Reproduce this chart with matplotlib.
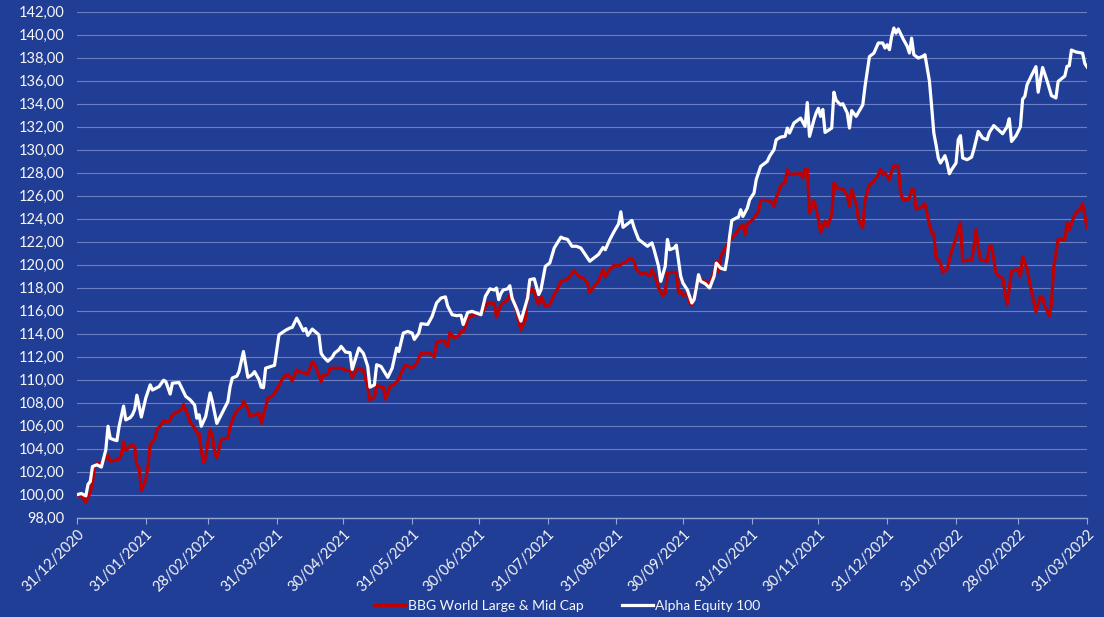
import matplotlib
matplotlib.use("Agg")
import matplotlib.pyplot as plt
from matplotlib.ticker import FuncFormatter, MultipleLocator
import pandas as pd

# days counted from 31/12/2020
bbg_days = [0, 2, 4, 6, 7, 8, 9, 11, 13, 14, 15, 17, 19, 20, 21, 22, 24, 25, 26, 27, 28, 29, 31, 32, 33, 35, 36, 38, 39, 41,
            42, 43, 45, 47, 48, 50, 51, 53, 54, 55, 56, 57, 58, 59, 60, 61, 62, 63, 65, 66, 68, 69, 71, 72, 74, 75, 77, 78, 80, 82,
            83, 84, 86, 88, 89, 90, 92, 93, 95, 97, 99, 101, 104, 105, 106, 107, 108, 110, 111, 113, 114, 117, 119, 121, 123, 124, 126, 127, 129, 130,
            131, 132, 134, 135, 137, 138, 139, 141, 143, 145, 146, 148, 149, 151, 153, 154, 155, 159, 161, 162, 165, 167, 168, 170, 172, 173, 174, 175, 176, 179,
            181, 183, 185, 186, 188, 189, 191, 194, 195, 197, 198, 200, 202, 203, 205, 206, 208, 209, 211, 213, 215, 216, 218, 221, 222, 224, 226, 228, 230, 231,
            233, 235, 237, 238, 240, 242, 244, 246, 247, 249, 251, 252, 254, 256, 257, 258, 259, 261, 262, 264, 265, 266, 268, 270, 271, 272, 273, 275, 276, 277,
            278, 280, 281, 283, 285, 287, 288, 289, 290, 293, 295, 297, 299, 300, 301, 302, 304, 305, 307, 308, 311, 313, 314, 315, 317, 319, 320, 321, 323, 325,
            326, 327, 328, 329, 330, 332, 334, 335, 337, 338, 340, 341, 343, 345, 347, 348, 349, 351, 352, 354, 355, 357, 359, 361, 362, 363, 364, 366, 367, 368,
            370, 371, 372, 374, 375, 376, 377, 378, 380, 382, 384, 385, 386, 387, 389, 390, 392, 394, 396, 398, 399, 401, 403, 404, 405, 406, 407, 410, 411, 412,
            414, 415, 417, 419, 421, 423, 424, 425, 426, 428, 430, 432, 434, 435, 436, 437, 438, 439, 440, 442, 445, 446, 447, 449, 450, 452, 453, 454, 455]
bbg_vals = [100.0, 99.85, 99.35, 100.2, 101.0, 102.6, 102.7, 102.75, 103.2, 103.4, 102.9, 103.0, 103.1, 103.5, 104.6, 103.86, 104.2, 104.35, 104.2, 102.46, 102.4, 100.38, 101.3, 102.46, 104.35, 104.78, 105.65, 106.1, 106.43, 106.3,
            106.5, 106.95, 107.16, 107.4, 107.83, 106.9, 106.3, 105.8, 105.36, 105.36, 103.9, 102.8, 103.2, 104.64, 105.65, 105.07, 103.77, 103.2, 104.78, 104.84, 104.93, 105.94, 106.95, 107.3, 107.62, 108.1, 107.5, 106.8, 106.96, 107.1,
            106.23, 106.9, 108.4, 108.6, 108.84, 109.13, 109.86, 110.2, 110.5, 109.9, 110.85, 110.65, 110.5, 111.0, 111.56, 111.35, 110.9, 109.85, 110.4, 110.45, 111.0, 111.0, 111.0, 110.82, 110.8, 110.2, 110.9, 111.0, 110.8, 110.1,
            109.3, 108.2, 108.5, 109.5, 109.36, 109.36, 108.3, 109.4, 109.6, 110.05, 110.58, 111.25, 111.2, 111.0, 111.4, 111.88, 112.3, 112.32, 111.97, 113.25, 113.42, 112.9, 114.12, 113.62, 113.83, 114.2, 114.2, 114.58, 115.36, 115.65,
            115.65, 115.94, 116.67, 116.67, 116.6, 115.45, 116.52, 116.96, 117.39, 116.81, 115.94, 114.35, 115.22, 117.39, 117.97, 117.54, 116.52, 117.25, 116.38, 116.52, 117.39, 117.68, 118.55, 118.75, 118.99, 119.5, 118.99, 118.84, 118.41, 117.59,
            118.12, 118.6, 119.57, 118.95, 119.6, 119.95, 119.9, 120.14, 120.2, 120.58, 120.29, 119.57, 119.22, 119.3, 119.13, 118.99, 119.57, 118.7, 117.97, 117.3, 117.54, 119.28, 119.33, 119.33, 117.54, 117.68, 117.3, 117.54, 116.72, 116.49,
            117.1, 118.99, 118.7, 118.55, 118.26, 119.42, 120.29, 119.33, 120.72, 121.74, 122.32, 122.75, 123.33, 123.48, 122.61, 123.57, 123.86, 124.06, 124.64, 125.59, 125.59, 125.42, 125.07, 125.8, 126.87, 127.16, 128.26, 127.83, 127.88, 127.91,
            127.97, 127.54, 128.32, 128.32, 124.49, 125.59, 124.0, 122.8, 123.8, 123.33, 124.35, 127.1, 126.6, 126.6, 126.0, 125.1, 126.52, 125.3, 124.0, 123.19, 125.65, 126.96, 127.25, 127.83, 128.32, 127.83, 127.97, 127.39, 128.12, 128.61,
            128.55, 126.3, 125.65, 125.65, 125.8, 126.52, 126.52, 124.84, 124.95, 125.3, 123.5, 122.8, 122.7, 120.58, 120.2, 119.3, 119.6, 121.2, 122.3, 123.68, 120.3, 120.4, 120.4, 121.5, 123.05, 121.6, 120.43, 120.29, 121.6, 121.62,
            119.3, 119.04, 118.84, 116.52, 119.42, 119.57, 119.57, 118.95, 120.72, 119.64, 117.68, 115.9, 117.25, 117.1, 116.4, 116.0, 115.51, 116.6, 119.8, 122.23, 122.17, 123.65, 123.04, 124.1, 124.5, 124.85, 125.3, 124.3, 123.19]

alpha_days = [0, 2, 4, 5, 6, 7, 9, 11, 13, 14, 15, 17, 18, 19, 21, 22, 24, 25, 26, 27, 29, 31, 33, 34, 37, 39, 40, 42, 43, 46,
              49, 51, 53, 54, 55, 56, 58, 60, 61, 63, 65, 68, 69, 70, 72, 73, 75, 77, 79, 80, 82, 83, 84, 85, 89, 91, 94, 96, 97, 99,
              100, 102, 103, 104, 106, 109, 110, 111, 113, 115, 116, 118, 119, 121, 123, 124, 127, 129, 130, 131, 132, 134, 135, 137, 140, 142, 144, 145, 147, 149,
              151, 152, 154, 155, 158, 160, 162, 164, 166, 167, 169, 171, 173, 174, 176, 178, 180, 182, 184, 186, 188, 189, 190, 191, 192, 194, 195, 196, 198, 200,
              203, 204, 206, 208, 209, 211, 213, 215, 218, 219, 221, 223, 225, 227, 230, 231, 233, 235, 237, 238, 240, 242, 244, 245, 246, 248, 250, 251, 253, 255,
              257, 259, 260, 262, 263, 265, 266, 267, 269, 270, 272, 273, 275, 277, 278, 279, 280, 281, 283, 285, 287, 288, 290, 292, 293, 294, 295, 297, 298, 299,
              300, 302, 303, 305, 306, 308, 309, 311, 312, 314, 315, 317, 319, 320, 321, 323, 325, 326, 328, 329, 330, 332, 333, 334, 335, 336, 337, 340, 341, 342,
              344, 345, 347, 348, 349, 351, 354, 355, 357, 359, 361, 363, 364, 365, 366, 367, 368, 369, 370, 372, 374, 375, 376, 377, 379, 381, 382, 384, 385, 386,
              387, 388, 389, 391, 392, 393, 394, 396, 397, 398, 399, 401, 403, 404, 406, 408, 410, 411, 413, 415, 417, 419, 420, 421, 423, 425, 426, 427, 428, 430,
              432, 433, 435, 437, 439, 441, 442, 445, 446, 447, 448, 450, 453, 454, 455]
alpha_vals = [100.0, 100.1, 99.9, 100.9, 101.15, 102.45, 102.6, 102.4, 103.9, 105.95, 104.9, 104.75, 104.7, 105.95, 107.7, 106.5, 106.7, 106.95, 107.4, 108.65, 106.75, 108.4, 109.55, 109.1, 109.4, 109.95, 109.85, 108.75, 109.7, 109.75,
              108.55, 108.25, 107.8, 106.65, 106.95, 105.95, 106.8, 108.85, 108.1, 106.2, 106.95, 108.1, 109.4, 110.15, 110.3, 110.7, 112.45, 110.2, 110.45, 110.7, 110.0, 109.35, 109.3, 111.0, 111.25, 113.9, 114.3, 114.5, 114.55, 115.35,
              115.0, 114.25, 114.45, 113.85, 114.4, 113.9, 112.3, 112.0, 111.6, 111.95, 112.3, 112.6, 112.9, 112.4, 112.35, 110.9, 112.75, 112.3, 111.75, 111.15, 109.35, 109.55, 111.3, 111.15, 110.2, 111.0, 112.75, 112.45, 114.05, 114.2,
              114.05, 113.5, 114.05, 114.87, 114.8, 115.5, 116.67, 117.1, 117.2, 116.4, 115.65, 115.57, 115.6, 114.8, 115.85, 115.94, 115.8, 115.65, 117.25, 117.9, 117.8, 117.97, 116.96, 117.5, 117.8, 117.9, 118.17, 117.1, 116.2, 115.1,
              117.1, 118.7, 118.78, 117.4, 117.8, 119.86, 120.15, 121.45, 122.4, 122.3, 122.2, 121.6, 121.6, 121.45, 120.6, 120.3, 120.6, 120.9, 121.5, 121.3, 122.17, 122.9, 123.55, 124.6, 123.25, 123.55, 123.85, 123.2, 122.2, 121.9,
              121.6, 121.9, 121.3, 119.86, 118.55, 119.86, 122.2, 121.3, 121.45, 121.7, 118.98, 118.4, 117.8, 116.67, 116.96, 117.97, 119.13, 118.55, 118.35, 117.97, 118.98, 120.14, 119.7, 119.57, 120.72, 122.46, 123.85, 124.06, 124.14, 124.78,
              124.2, 124.93, 125.65, 126.23, 127.4, 128.55, 128.7, 128.99, 129.42, 130.0, 130.87, 131.1, 131.16, 131.88, 131.45, 132.32, 132.6, 132.75, 132.03, 134.1, 131.16, 132.6, 133.2, 133.6, 132.9, 133.5, 131.5, 131.88, 135.0, 134.3,
              133.9, 134.0, 133.2, 131.88, 133.4, 132.9, 133.9, 135.5, 138.1, 138.4, 139.28, 139.28, 138.84, 139.13, 138.7, 139.86, 140.58, 140.14, 140.5, 139.7, 138.99, 138.41, 139.7, 138.26, 137.97, 138.12, 138.26, 136.0, 133.8, 131.45,
              130.43, 129.28, 128.84, 129.48, 128.84, 127.91, 128.26, 128.84, 130.87, 131.22, 129.28, 129.13, 129.35, 130.0, 131.59, 131.01, 130.87, 131.5, 132.1, 131.74, 131.39, 132.0, 132.7, 130.72, 131.2, 132.0, 134.4, 134.64, 135.65, 136.45,
              137.22, 135.0, 137.15, 136.0, 134.7, 134.5, 135.94, 136.4, 137.25, 137.3, 138.67, 138.5, 138.4, 137.5, 137.2]

start = pd.Timestamp("2020-12-31")
end = pd.Timestamp("2022-03-31")
bbg_dates = start + pd.to_timedelta(bbg_days, unit="D")
alpha_dates = start + pd.to_timedelta(alpha_days, unit="D")
tick_dates = pd.date_range(start, end, freq="ME")

bg = "#213E96"
txt = "#F7F7F7"

plt.rcParams["font.family"] = ["Lato", "DejaVu Sans"]

fig = plt.figure(figsize=(11.04, 6.17), dpi=100, facecolor=bg)
ax = fig.add_axes([0.0697, 0.161, 0.9149, 0.820])
ax.set_facecolor(bg)

ax.plot(bbg_dates, bbg_vals, color="#C00000", lw=2.3, label="BBG World Large & Mid Cap", solid_joinstyle="round")
ax.plot(alpha_dates, alpha_vals, color="white", lw=2.3, label="Alpha Equity 100", solid_joinstyle="round")

ax.set_xlim(start, end)
ax.set_ylim(98, 142)
ax.yaxis.set_major_locator(MultipleLocator(2))
ax.yaxis.set_major_formatter(FuncFormatter(lambda v, p: f"{v:.2f}".replace(".", ",")))
ax.set_xticks(tick_dates)
ax.set_xticklabels([d.strftime("%d/%m/%Y") for d in tick_dates])

ax.grid(axis="y", color="#6A7FC0", lw=0.8)
ax.set_axisbelow(True)
for s in ["top", "right", "left"]:
    ax.spines[s].set_visible(False)
ax.spines["bottom"].set_color("#9AA6D2")
ax.spines["bottom"].set_linewidth(1.0)

ax.tick_params(axis="y", length=0, pad=9, labelcolor=txt, labelsize=10.5)
ax.tick_params(axis="x", length=4, color="#9AA6D2", pad=3, labelcolor=txt, labelsize=10.5)
plt.setp(ax.get_xticklabels(), rotation=45, ha="right", rotation_mode="anchor")

leg = fig.legend(loc="center", bbox_to_anchor=(0.514, 0.018), ncol=2, frameon=False,
                 fontsize=10, handlelength=2.2, handletextpad=0.2, columnspacing=2.8)
for t in leg.get_texts():
    t.set_color(txt)

fig.savefig("out.png", dpi=100, facecolor=bg)
